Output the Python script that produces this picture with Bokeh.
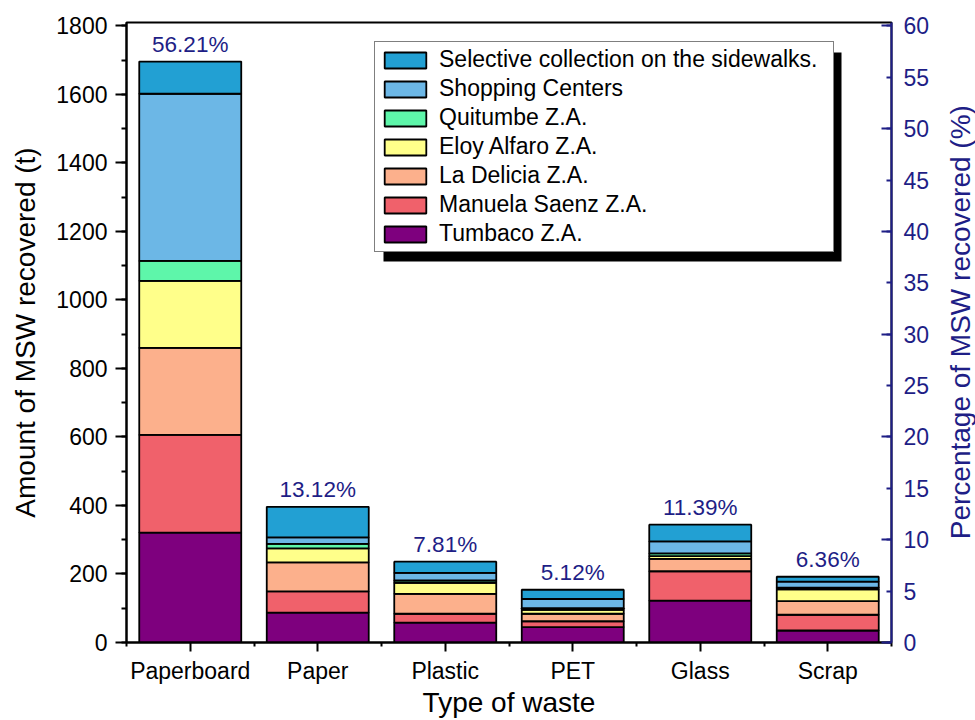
import math

from bokeh.plotting import figure
from bokeh.layouts import row
from bokeh.models import (ColumnDataSource, Range1d, LinearAxis, FixedTicker,
                          SingleIntervalTicker, Legend, LegendItem, BoxAnnotation)
from bokeh.core.properties import value
from bokeh.embed import file_html
from bokeh.resources import INLINE

# Recovered municipal solid waste (t) by type of waste and collection point
categories = ["Paperboard", "Paper", "Plastic", "PET", "Glass", "Scrap"]
tumbaco = [321, 87, 58, 45, 122, 35]
manuela_saenz = [285, 62, 26, 17, 86, 46]
la_delicia = [254, 85, 58, 22, 36, 40]
eloy_alfaro = [196, 41, 32, 11, 8, 34]
quitumbe = [58, 13, 7, 5, 8, 5]
shopping_centers = [488, 19, 22, 27, 35, 18]
selective_sidewalks = [94, 89, 33, 27, 49, 14]
percent_labels = ["56.21%", "13.12%", "7.81%", "5.12%", "11.39%", "6.36%"]

series_names = ["Tumbaco Z.A.", "Manuela Saenz Z.A.", "La Delicia Z.A.",
                "Eloy Alfaro Z.A.", "Quitumbe Z.A.", "Shopping Centers",
                "Selective collection on the sidewalks."]
series_values = [tumbaco, manuela_saenz, la_delicia, eloy_alfaro, quitumbe,
                 shopping_centers, selective_sidewalks]
series_colors = ["#7e007e", "#f0616b", "#fcb08c", "#ffff8a", "#5ef6aa",
                 "#6cb7e6", "#22a0d3"]

FONT = "Liberation Sans"
NAVY = "#1e1e86"
Y_MAX = 1810
MAIN_W, TITLE_W, H = 940, 35, 720

x = list(range(1, len(categories) + 1))

p = figure(width=MAIN_W, height=H, x_range=Range1d(0.5, len(categories) + 0.5),
           y_range=Range1d(0, Y_MAX), output_backend="svg", toolbar_location=None,
           min_border_left=126, min_border_right=49, min_border_top=22,
           min_border_bottom=78)
p.xgrid.visible = False
p.ygrid.visible = False
p.outline_line_color = "black"
p.outline_line_width = 2
p.background_fill_color = "white"
p.border_fill_color = "white"

# stacked bars
bottoms = [0] * len(categories)
renderers = []
for name, vals, col in zip(series_names, series_values, series_colors):
    tops = [b + v for b, v in zip(bottoms, vals)]
    src = ColumnDataSource(dict(x=x, bottom=bottoms, top=tops))
    r = p.vbar(x="x", bottom="bottom", top="top", width=0.8, source=src,
               fill_color=col, line_color="black", line_width=1.8)
    renderers.append((name, r))
    bottoms = tops
totals = bottoms

# share of total recovered above each bar
lab_src = ColumnDataSource(dict(x=x, y=totals, text=percent_labels))
p.text(x="x", y="y", text="text", source=lab_src, y_offset=-5,
       text_align="center", text_baseline="bottom", text_color=NAVY,
       text_font=value(FONT), text_font_size="22.5px")

# bottom axis
xa = p.xaxis[0]
xa.ticker = FixedTicker(ticks=x, minor_ticks=[i + 0.5 for i in range(len(categories) + 1)])
xa.major_label_overrides = {i: c for i, c in zip(x, categories)}
xa.axis_label = "Type of waste"
xa.major_tick_in = 0
xa.major_tick_out = 9
xa.minor_tick_in = 0
xa.minor_tick_out = 4

# left axis
ya = p.yaxis[0]
ya.ticker = SingleIntervalTicker(interval=200, num_minor_ticks=2)
ya.axis_label = "Amount of MSW recovered (t)"
ya.major_tick_in = 0
ya.major_tick_out = 11
ya.minor_tick_in = 0
ya.minor_tick_out = 5

for ax in (xa, ya):
    ax.axis_line_width = 2
    ax.axis_line_color = "black"
    ax.major_tick_line_width = 2
    ax.minor_tick_line_width = 2
    ax.major_tick_line_color = "black"
    ax.minor_tick_line_color = "black"
    ax.major_label_text_font = FONT
    ax.major_label_text_font_size = "23px"
    ax.major_label_text_color = "black"
    ax.axis_label_text_font = FONT
    ax.axis_label_text_font_size = "28px"
    ax.axis_label_text_font_style = "normal"
    ax.axis_label_text_color = "black"
xa.major_label_standoff = 6
xa.axis_label_standoff = 0
ya.major_label_standoff = 8
ya.axis_label_standoff = 12

# right axis: percentage of MSW recovered
p.extra_y_ranges = {"pct": Range1d(0, Y_MAX / 30)}
ra = LinearAxis(y_range_name="pct",
                ticker=FixedTicker(ticks=list(range(0, 61, 5)),
                                   minor_ticks=list(range(0, 61, 10))))
ra.major_tick_in = 5
ra.major_tick_out = 0
ra.minor_tick_in = 10
ra.minor_tick_out = 0
ra.axis_line_width = 2
ra.axis_line_color = NAVY
ra.major_tick_line_color = NAVY
ra.minor_tick_line_color = NAVY
ra.major_tick_line_width = 2
ra.minor_tick_line_width = 2
ra.major_label_text_font = FONT
ra.major_label_text_font_size = "23px"
ra.major_label_text_color = NAVY
ra.major_label_standoff = 12
p.add_layout(ra, "right")

# legend with drop shadow
LEG_X, LEG_Y, LEG_W, LEG_H, SHADOW = 248, 390, 458, 209, 9
shadow = BoxAnnotation(left=LEG_X + SHADOW, right=LEG_X + LEG_W + SHADOW,
                       bottom=LEG_Y - SHADOW, top=LEG_Y + LEG_H - SHADOW,
                       left_units="screen", right_units="screen",
                       bottom_units="screen", top_units="screen",
                       fill_color="black", fill_alpha=1, line_color=None)
p.add_layout(shadow)

legend = Legend(items=[LegendItem(label=n, renderers=[r]) for n, r in reversed(renderers)],
                location=(LEG_X, LEG_Y))
legend.border_line_color = "black"
legend.border_line_width = 1.5
legend.background_fill_color = "white"
legend.background_fill_alpha = 1
legend.padding = 4
legend.margin = 0
legend.spacing = 2
legend.glyph_width = 52
legend.glyph_height = 20
legend.label_height = 20
legend.label_width = 390
legend.label_standoff = 8
legend.label_text_font = FONT
legend.label_text_font_size = "23px"
legend.label_text_color = "black"
legend.label_text_baseline = "middle"
p.add_layout(legend)

# narrow strip holding the right-hand axis title, reading bottom to top
t = figure(width=TITLE_W, height=H, x_range=Range1d(0, TITLE_W), y_range=Range1d(0, H),
           output_backend="svg", toolbar_location=None,
           x_axis_location=None, y_axis_location=None,
           min_border_left=0, min_border_right=0, min_border_top=0, min_border_bottom=0)
t.xgrid.visible = False
t.ygrid.visible = False
t.outline_line_color = None
t.background_fill_color = "white"
t.border_fill_color = "white"
t.text(x=[20], y=[372], text=["Percentage of MSW recovered (%)"], angle=math.pi / 2,
       text_align="center", text_baseline="middle", text_color=NAVY,
       text_font=value(FONT), text_font_size="28px")

layout = row(p, t, spacing=0)
open("out.html", "w").write(file_html(layout, INLINE))
